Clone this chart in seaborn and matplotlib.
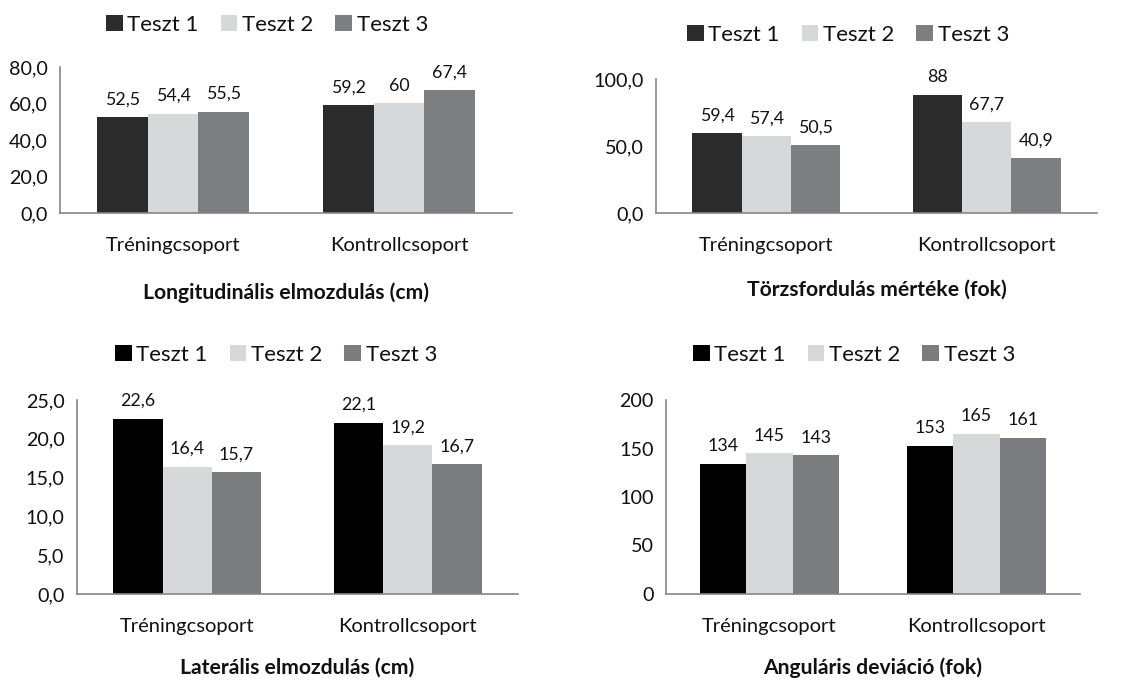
import pandas as pd
import matplotlib
matplotlib.use("Agg")
import matplotlib.pyplot as plt
import seaborn as sns

# data
groups = ["Tréningcsoport", "Kontrollcsoport"]
tests = ["Teszt 1", "Teszt 2", "Teszt 3"]

longit = [[52.5, 54.4, 55.5], [59.2, 60.0, 67.4]]
longit_lbl = [["52,5", "54,4", "55,5"], ["59,2", "60", "67,4"]]
torzs = [[59.4, 57.4, 50.5], [88.0, 67.7, 40.9]]
torzs_lbl = [["59,4", "57,4", "50,5"], ["88", "67,7", "40,9"]]
later = [[22.6, 16.4, 15.7], [22.1, 19.2, 16.7]]
later_lbl = [["22,6", "16,4", "15,7"], ["22,1", "19,2", "16,7"]]
angul = [[134, 145, 143], [153, 165, 161]]
angul_lbl = [["134", "145", "143"], ["153", "165", "161"]]

titles = ["Longitudinális elmozdulás (cm)", "Törzsfordulás mértéke (fok)",
          "Laterális elmozdulás (cm)", "Anguláris deviáció (fok)"]

top_colors = ["#2b2b2b", "#d7d8d9", "#7d7e81"]
bot_colors = ["#000000", "#d7d8d9", "#7b7c7f"]

sns.set_style("white")
plt.rcParams["font.family"] = ["Lato", "DejaVu Sans"]

W, H = 1131, 681
fig = plt.figure(figsize=(W / 100, H / 100), dpi=100)


def frac(l, t, r, b):
    return [l / W, 1 - b / H, (r - l) / W, (b - t) / H]


def make_df(vals):
    rows = []
    for gi, g in enumerate(groups):
        for ti, t in enumerate(tests):
            rows.append({"group": g, "test": t, "value": vals[gi][ti]})
    return pd.DataFrame(rows)


panels = [
    dict(vals=longit, lbl=longit_lbl, box=(60, 67, 512, 213), ymax=80, step=20, fmt="{:.1f}",
         colors=top_colors, leg=(267, 25), title_y=293),
    dict(vals=torzs, lbl=torzs_lbl, box=(656, 79, 1097, 213), ymax=100, step=50, fmt="{:.1f}",
         colors=top_colors, leg=(848, 35), title_y=290),
    dict(vals=later, lbl=later_lbl, box=(77, 400, 518, 594), ymax=25, step=5, fmt="{:.1f}",
         colors=bot_colors, leg=(276, 355), title_y=668),
    dict(vals=angul, lbl=angul_lbl, box=(666, 400, 1080, 594), ymax=200, step=50, fmt="{:.0f}",
         colors=bot_colors, leg=(854, 355), title_y=668),
]

axis_gray = "#868686"
txt = "#111111"

for p, title in zip(panels, titles):
    ax = fig.add_axes(frac(*p["box"]))
    df = make_df(p["vals"])
    sns.barplot(data=df, x="group", y="value", hue="test", palette=p["colors"],
                width=0.67, ax=ax, saturation=1, edgecolor="none", linewidth=0)

    for ti, cont in enumerate(ax.containers):
        ax.bar_label(cont, labels=[p["lbl"][gi][ti] for gi in range(2)],
                     padding=7, fontsize=12.8, color=txt)

    ax.set_xlim(-0.5, 1.5)
    ax.set_ylim(0, p["ymax"])
    yt = list(range(0, p["ymax"] + 1, p["step"]))
    ax.set_yticks(yt)
    ax.set_yticklabels([p["fmt"].format(v).replace(".", ",") for v in yt], fontsize=14.2)
    ax.set_xticks([0, 1])
    ax.set_xticklabels(groups, fontsize=14.5)
    ax.set_xticks([-0.5, 0.5, 1.5], minor=True)
    ax.tick_params(axis="x", which="major", length=0, pad=17, colors=txt)
    ax.tick_params(axis="x", which="minor", length=6, width=1.2, color=axis_gray, direction="out")
    ax.tick_params(axis="y", length=5, width=1.2, color=axis_gray, direction="out", pad=4,
                   labelcolor=txt)
    ax.set_xlabel("")
    ax.set_ylabel("")
    for s in ["top", "right"]:
        ax.spines[s].set_visible(False)
    for s in ["left", "bottom"]:
        ax.spines[s].set_color(axis_gray)
        ax.spines[s].set_linewidth(1.2)
    ax.grid(False)

    handles, labels = ax.get_legend_handles_labels()
    ax.get_legend().remove()
    lx, ly = p["leg"]
    leg = fig.legend(handles, labels, loc="center", bbox_to_anchor=(lx / W, 1 - ly / H),
                     ncol=3, frameon=False, fontsize=16, handlelength=0.75, handleheight=0.75,
                     handletextpad=0.2, columnspacing=1.0, borderaxespad=0)
    for t in leg.get_texts():
        t.set_color(txt)

    l, t, r, b = p["box"]
    fig.text(((l + r) / 2) / W, 1 - p["title_y"] / H, title, ha="center", va="center",
             fontsize=15.2, fontweight="bold", color=txt)

fig.savefig("out.png", dpi=100)
